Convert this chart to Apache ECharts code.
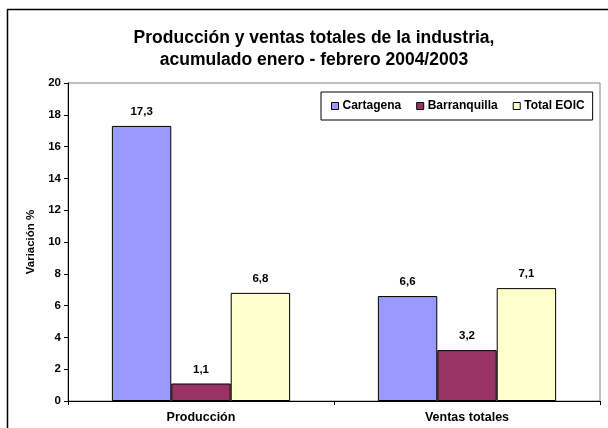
<!DOCTYPE html>
<html>
<head>
<meta charset="utf-8">
<script src="https://cdn.jsdelivr.net/npm/echarts@6/dist/echarts.min.js"></script>
<style>
  html, body { margin: 0; padding: 0; background: #fff; }
  #chart { width: 608px; height: 428px; }
</style>
</head>
<body>
<div id="chart"></div>
<script>
// data
const categories = ["Producción", "Ventas totales"];
const cartagena = [17.3, 6.6];
const barranquilla = [1.1, 3.2];
const totalEoic = [6.8, 7.1];
const yTicks = [0, 2, 4, 6, 8, 10, 12, 14, 16, 18, 20];

const font = "'Liberation Sans', Arial, sans-serif";

const chart = echarts.init(document.getElementById("chart"), null, { renderer: "canvas" });

const barLabel = {
    show: true,
    position: "top",
    distance: 8,
    color: "#000",
    fontFamily: font,
    fontWeight: "bold",
    fontSize: 11.5,
    formatter: p => String(p.value).replace(".", ",")
};

function makeSeries(name, data, color) {
    return {
        name: name,
        type: "bar",
        data: data,
        barGap: "0%",
        barCategoryGap: "33%",
        itemStyle: { color: color, borderColor: "#000", borderWidth: 1 },
        label: barLabel
    };
}

chart.setOption({
    animation: false,
    backgroundColor: "#fff",
    textStyle: { fontFamily: font },
    graphic: [{
        type: "rect",
        shape: { x: 7.5, y: 9.5, width: 640, height: 440 },
        style: { fill: null, stroke: "#000", lineWidth: 1.5 },
        silent: true
    }],
    title: {
        text: "Producción y ventas totales de la industria,\nacumulado enero - febrero 2004/2003",
        left: 309,
        textAlign: "center",
        top: 22,
        textStyle: {
            fontFamily: font,
            fontWeight: "bold",
            fontSize: 17.5,
            lineHeight: 22,
            color: "#000"
        }
    },
    legend: {
        left: 321,
        top: 92,
        padding: [8, 8, 8, 10],
        itemGap: 15,
        itemWidth: 7,
        itemHeight: 7,
        borderColor: "#000",
        borderWidth: 1,
        icon: "rect",
        itemStyle: { borderColor: "#000", borderWidth: 1 },
        textStyle: {
            fontFamily: font,
            fontWeight: "bold",
            fontSize: 12,
            color: "#000",
            padding: [0, 0, 0, -1]
        },
        data: ["Cartagena", "Barranquilla", "Total EOIC"]
    },
    grid: {
        left: 68,
        right: 8,
        top: 83,
        bottom: 27,
        show: true,
        borderColor: "#808080",
        borderWidth: 1,
        containLabel: false
    },
    xAxis: {
        type: "category",
        data: categories,
        axisLine: { lineStyle: { color: "#000", width: 1 } },
        axisTick: { show: true, length: 4, lineStyle: { color: "#000" } },
        axisLabel: {
            margin: 10,
            color: "#000",
            fontFamily: font,
            fontWeight: "bold",
            fontSize: 12.5
        },
        splitLine: { show: false }
    },
    yAxis: {
        type: "value",
        min: yTicks[0],
        max: yTicks[yTicks.length - 1],
        interval: 2,
        name: "Variación %",
        nameLocation: "middle",
        nameRotate: 90,
        nameGap: 31,
        nameTextStyle: {
            fontFamily: font,
            fontWeight: "bold",
            fontSize: 11.5,
            color: "#000"
        },
        axisLine: { show: true, lineStyle: { color: "#000", width: 1 } },
        axisTick: { show: true, length: 4, lineStyle: { color: "#000" } },
        axisLabel: {
            margin: 7,
            color: "#000",
            fontFamily: font,
            fontWeight: "bold",
            fontSize: 11.5
        },
        splitLine: { show: false }
    },
    series: [
        makeSeries("Cartagena", cartagena, "#9999ff"),
        makeSeries("Barranquilla", barranquilla, "#993366"),
        makeSeries("Total EOIC", totalEoic, "#ffffcc")
    ]
});
</script>
</body>
</html>
